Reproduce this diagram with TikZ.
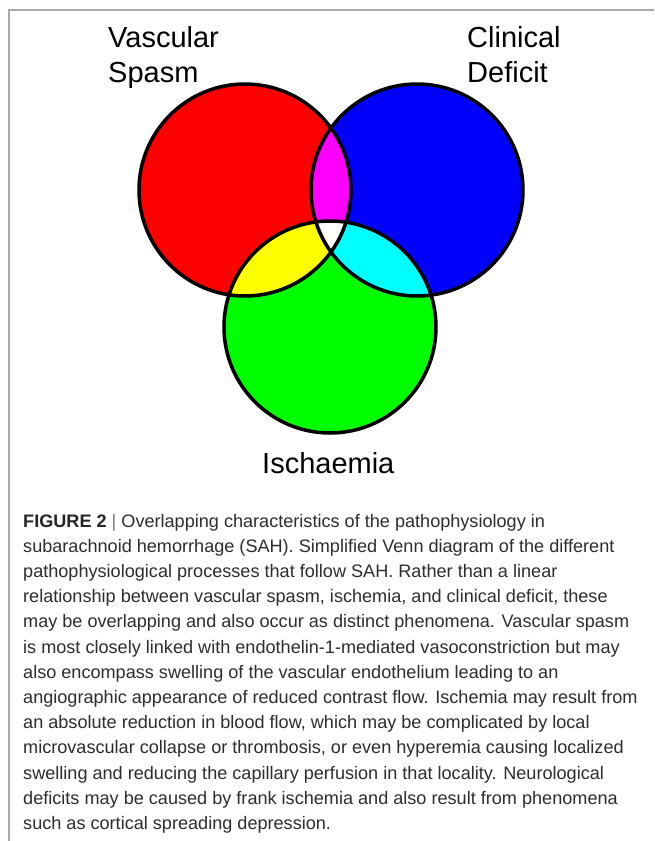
\documentclass[tikz,border=0pt]{standalone}
\usepackage{fontspec}
\setmainfont{Liberation Sans}
\definecolor{vred}{RGB}{255,0,0}
\definecolor{vblue}{RGB}{0,0,255}
\definecolor{vgreen}{RGB}{0,255,0}
\definecolor{vmag}{RGB}{255,0,255}
\definecolor{vyel}{RGB}{255,255,0}
\definecolor{vcyan}{RGB}{0,255,255}
\definecolor{framegray}{RGB}{170,170,170}
\definecolor{capgray}{RGB}{45,45,45}
\definecolor{bargray}{RGB}{120,120,120}
\begin{document}
\begin{tikzpicture}[x=1pt,y=-1pt,
  lbl/.style={font=\fontsize{29}{34}\selectfont, anchor=base west, inner sep=0pt, text=black},
  captext/.style={font=\fontsize{18.1}{25.2}\selectfont, anchor=base west, inner sep=0pt, text=capgray},
  ring/.style={draw=black, line width=3.5pt},
  rad/.style={radius=106pt}]
\useasboundingbox (0,0) rectangle (654,841);
\fill[white] (0,0) rectangle (654,841);
\draw[framegray, line width=1.4pt] (9,841) -- (9,10) -- (654,10);

\coordinate (R) at (245,190);
\coordinate (B) at (417,190);
\coordinate (G) at (330,327);

\fill[vred] (R) circle[rad];
\fill[vblue] (B) circle[rad];
\fill[vgreen] (G) circle[rad];
\begin{scope}
  \clip (R) circle[rad];
  \fill[vmag] (B) circle[rad];
  \fill[vyel] (G) circle[rad];
\end{scope}
\begin{scope}
  \clip (B) circle[rad];
  \fill[vcyan] (G) circle[rad];
\end{scope}
\begin{scope}
  \clip (R) circle[rad];
  \clip (B) circle[rad];
  \fill[white] (G) circle[rad];
\end{scope}
\draw[ring] (R) circle[rad];
\draw[ring] (B) circle[rad];
\draw[ring] (G) circle[rad];

\node[lbl] (vs1) at (108,47) {Vascular};
\node[lbl] (vs2) at (108,82) {Spasm};
\node[lbl] (cd1) at (467,47) {Clinical};
\node[lbl] (cd2) at (467,82) {Deficit};
\node[lbl] (isc) at (262,473) {Ischaemia};

\node[captext] (cap1) at (23,527) {\textbf{\color{black!85}FIGURE 2} {\color{bargray}|} Overlapping characteristics of the pathophysiology in};
\foreach [count=\i from 2] \t in {
  {subarachnoid hemorrhage (SAH). Simplified Venn diagram of the different},
  {pathophysiological processes that follow SAH. Rather than a linear},
  {relationship between vascular spasm, ischemia, and clinical deficit, these},
  {may be overlapping and also occur as distinct phenomena. Vascular spasm},
  {is most closely linked with endothelin-1-mediated vasoconstriction but may},
  {also encompass swelling of the vascular endothelium leading to an},
  {angiographic appearance of reduced contrast flow. Ischemia may result from},
  {an absolute reduction in blood flow, which may be complicated by local},
  {microvascular collapse or thrombosis, or even hyperemia causing localized},
  {swelling and reducing the capillary perfusion in that locality. Neurological},
  {deficits may be caused by frank ischemia and also result from phenomena},
  {such as cortical spreading depression.}}
  \node[captext, name=cap\i] at (23,{527+25.2*(\i-1)}) {\t};
\end{tikzpicture}
\end{document}
